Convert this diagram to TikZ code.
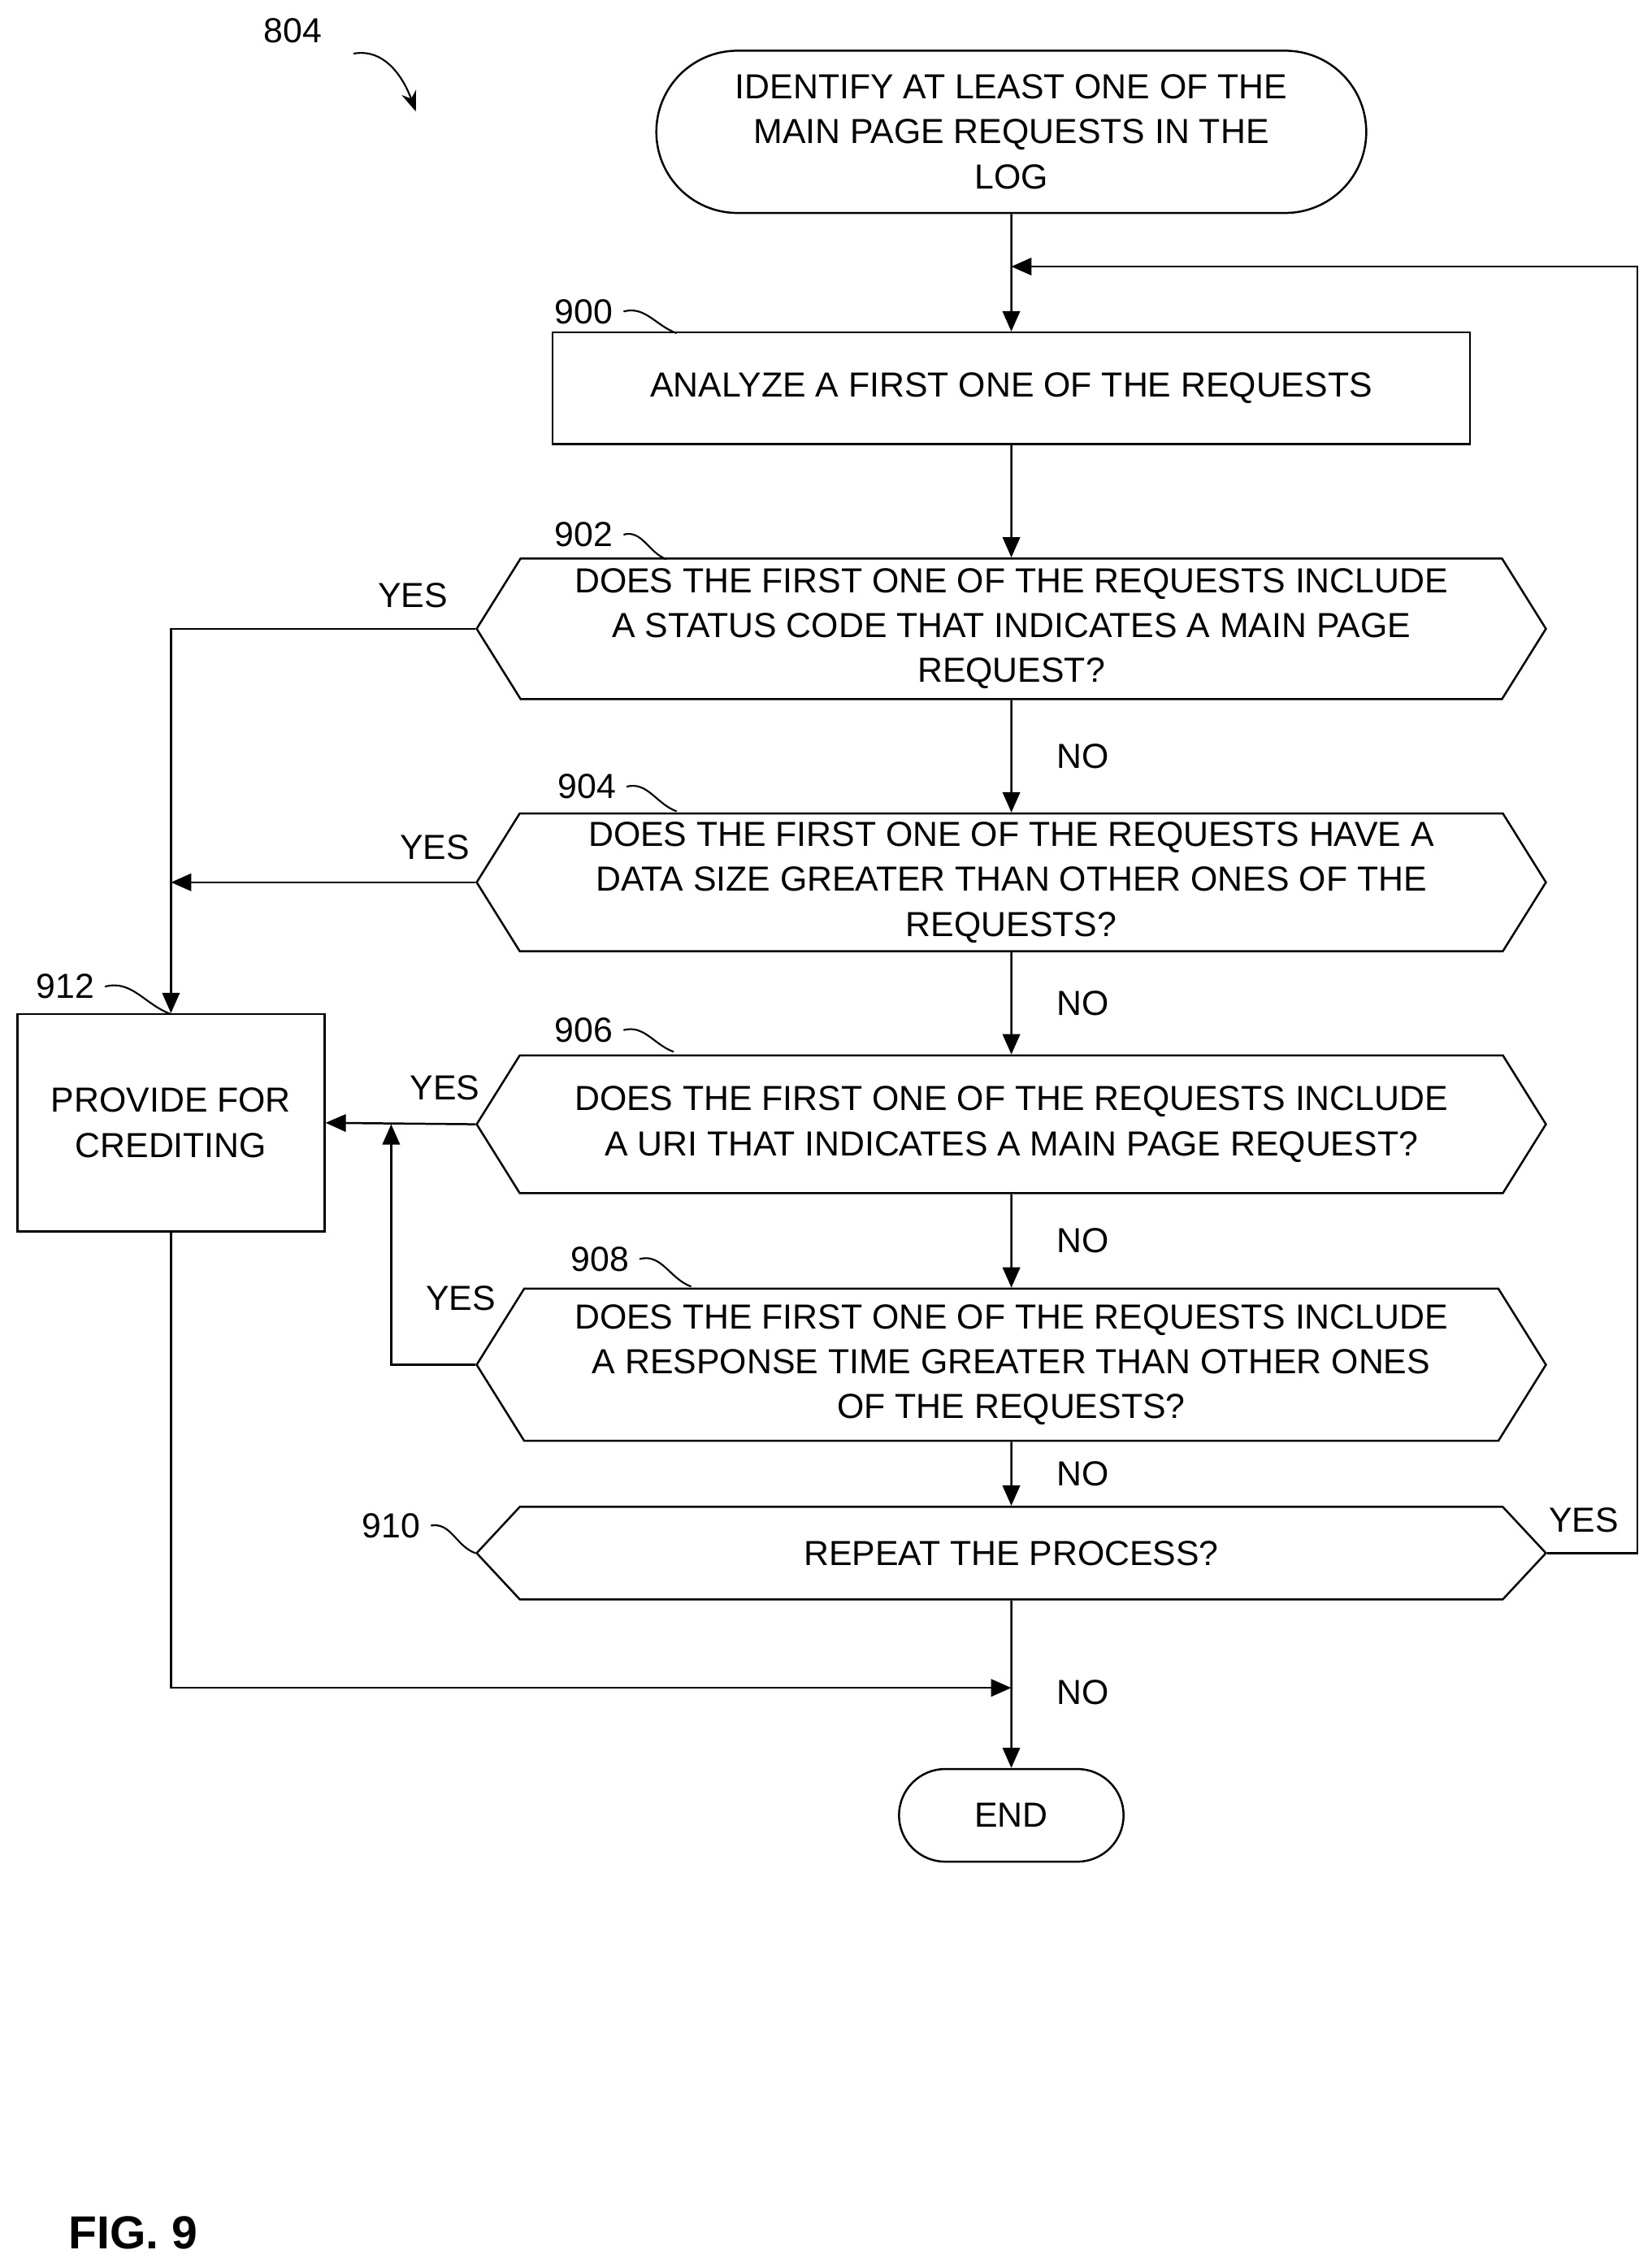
\documentclass[tikz,border=0pt]{standalone}
\usepackage{fontspec}
\setmainfont{Liberation Sans}
\usetikzlibrary{shapes.symbols,shapes.misc,arrows.meta}
\begin{document}
\begin{tikzpicture}
	[x=0.5pt,y=-0.5pt,font=\fontsize{12}{15.5}\selectfont,line width=0.7pt,
	term/.style={rounded rectangle,draw,align=center,inner sep=0pt},
	proc/.style={rectangle,draw,align=center,inner sep=0pt},
	dec/.style={signal,signal to=west and east,draw,align=center,inner sep=0pt,
		minimum width=369pt,signal pointer angle=116},
	flow/.style={-{Triangle[length=7pt,width=6pt]}},
	lead/.style={line width=0.6pt}]
	\useasboundingbox (0,0) rectangle (1140,1562);
	\node[term,minimum width=245pt,minimum height=56pt] (start) at (698,91)
		{IDENTIFY AT LEAST ONE OF THE\\MAIN PAGE REQUESTS IN THE\\LOG};
	\node[proc,minimum width=316.5pt,minimum height=38.5pt] (analyze) at (698,268)
		{ANALYZE A FIRST ONE OF THE REQUESTS};
	\node[dec,minimum height=48.5pt] (status) at (698,434)
		{DOES THE FIRST ONE OF THE REQUESTS INCLUDE\\A STATUS CODE THAT INDICATES A MAIN PAGE\\REQUEST?};
	\node[dec,minimum height=47.5pt] (size) at (698,609)
		{DOES THE FIRST ONE OF THE REQUESTS HAVE A\\DATA SIZE GREATER THAN OTHER ONES OF THE\\REQUESTS?};
	\node[dec,minimum height=47.5pt] (uri) at (698,776)
		{DOES THE FIRST ONE OF THE REQUESTS INCLUDE\\A URI THAT INDICATES A MAIN PAGE REQUEST?};
	\node[dec,minimum height=52.5pt] (time) at (698,942)
		{DOES THE FIRST ONE OF THE REQUESTS INCLUDE\\A RESPONSE TIME GREATER THAN OTHER ONES\\OF THE REQUESTS?};
	\node[dec,minimum height=32pt,signal pointer angle=94] (repeat) at (698,1072)
		{REPEAT THE PROCESS?};
	\node[term,minimum width=77.5pt,minimum height=32pt] (end) at (698,1253) {END};
	\node[proc,minimum width=106pt,minimum height=75pt] (credit) at (118,775)
		{PROVIDE FOR\\CREDITING};
	% main column
	\draw[flow] (start) -- (analyze);
	\draw[flow] (analyze) -- (status);
	\draw[flow] (status) -- node[right=12pt] {NO} (size);
	\draw[flow] (size) -- node[right=12pt] {NO} (uri);
	\draw[flow] (uri) -- node[right=12pt] {NO} (time);
	\draw[flow] (time) -- node[right=12pt] {NO} (repeat);
	\draw[flow] (repeat) -- node[pos=0.55,right=12pt] {NO} (end);
	% yes branches
	\coordinate (loop) at (1130,184);
	\draw[flow] (repeat.east) -| (loop) -- (698,184);
	\node at (1093,1049) {YES};
	\draw[flow] (status.west) -| (credit.north);
	\node at (285,411) {YES};
	\draw[flow] (size.west) -- (118,609);
	\node at (300,585) {YES};
	\draw[flow] (uri.west) -- (credit.east);
	\node at (307,751) {YES};
	\draw[flow] (time.west) -| (270,776);
	\node at (318,896) {YES};
	\draw[flow] (credit.south) |- (698,1165);
	% reference numerals
	\node (n804) at (202,21) {804};
	\draw[-{Stealth[length=7pt]},lead] (244,37) to[out=10,in=110] (287,77);
	\node (n900) at (403,215) {900};
	\draw[lead] (n900.east) to[out=15,in=160] (467,230);
	\node (n902) at (403,369) {902};
	\draw[lead] (n902.east) to[out=15,in=160] (460,386);
	\node (n904) at (405,543) {904};
	\draw[lead] (n904.east) to[out=15,in=160] (467,560);
	\node (n906) at (403,711) {906};
	\draw[lead] (n906.east) to[out=15,in=160] (465,726);
	\node (n908) at (414,869) {908};
	\draw[lead] (n908.east) to[out=15,in=160] (477,888);
	\node (n910) at (270,1053) {910};
	\draw[lead] (n910.east) to[out=10,in=160] (repeat.west);
	\node (n912) at (45,681) {912};
	\draw[lead] (n912.east) to[out=15,in=160] (118,700);
	\node[font=\bfseries\fontsize{16}{19}\selectfont] (fig) at (92,1541) {FIG. 9};
\end{tikzpicture}
\end{document}
